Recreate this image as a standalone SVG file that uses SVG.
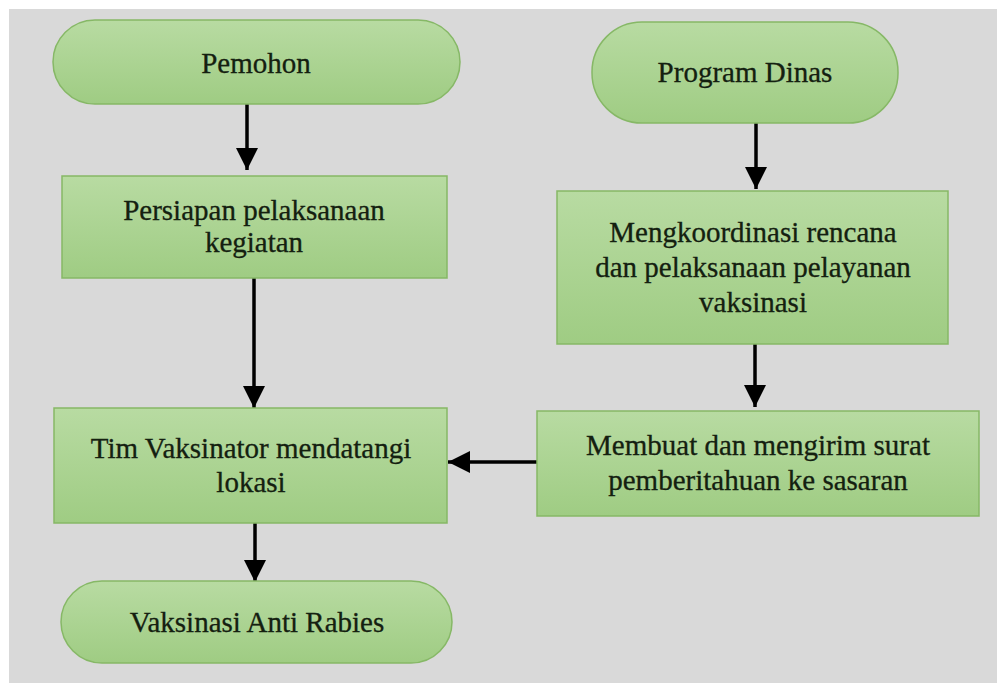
<svg xmlns="http://www.w3.org/2000/svg" width="997" height="683" viewBox="0 0 997 683">
<style>
.node{fill:url(#g);stroke:#86b866;stroke-width:1.5}
.t{font-family:"Liberation Serif","Times New Roman",serif;font-size:29px;fill:#142010;stroke:#142010;stroke-width:0.3;text-anchor:middle}
.c{stroke:#000;stroke-width:3.5;fill:none;marker-end:url(#ah)}
</style>
<defs>
<linearGradient id="g" x1="0" y1="0" x2="0" y2="1">
<stop offset="0" stop-color="#b8dba2"/>
<stop offset="1" stop-color="#9fcc83"/>
</linearGradient>
<marker id="ah" markerUnits="userSpaceOnUse" markerWidth="24" markerHeight="24" viewBox="0 0 24 24" refX="22" refY="12" orient="auto">
<path d="M0,1 L22,12 L0,23 Z" fill="#000"/>
</marker>
</defs>
<rect x="0" y="0" width="997" height="683" fill="#fff"/>
<rect x="9" y="9" width="988" height="674" fill="#d9d9d9"/>
<g id="connectors">
<line class="c" x1="247" y1="104" x2="247" y2="170"/>
<line class="c" x1="254" y1="278" x2="254" y2="408"/>
<line class="c" x1="255" y1="523" x2="255" y2="582"/>
<line class="c" x1="756" y1="123" x2="756" y2="189"/>
<line class="c" x1="755" y1="344" x2="755" y2="407"/>
<line class="c" x1="537" y1="462" x2="448" y2="462"/>
</g>
<g id="pemohon">
<rect class="node" x="53" y="20" width="407" height="84" rx="42" ry="42"/>
<text class="t" x="256" y="73">Pemohon</text>
</g>
<g id="persiapan">
<rect class="node" x="62" y="176" width="385" height="102"/>
<text class="t" x="254" y="220">Persiapan pelaksanaan</text>
<text class="t" x="254" y="252">kegiatan</text>
</g>
<g id="tim">
<rect class="node" x="54" y="408" width="393" height="115"/>
<text class="t" x="251" y="458">Tim Vaksinator mendatangi</text>
<text class="t" x="251" y="492">lokasi</text>
</g>
<g id="vaksinasi">
<rect class="node" x="61" y="581" width="391" height="82" rx="41" ry="41"/>
<text class="t" x="257" y="632">Vaksinasi Anti Rabies</text>
</g>
<g id="program">
<rect class="node" x="592" y="22" width="306" height="101" rx="50" ry="50"/>
<text class="t" x="745" y="82">Program Dinas</text>
</g>
<g id="mengkoordinasi">
<rect class="node" x="557" y="191" width="391" height="153"/>
<text class="t" x="753" y="242">Mengkoordinasi rencana</text>
<text class="t" x="753" y="277">dan pelaksanaan pelayanan</text>
<text class="t" x="753" y="312">vaksinasi</text>
</g>
<g id="membuat">
<rect class="node" x="537" y="411" width="442" height="105"/>
<text class="t" x="758" y="455">Membuat dan mengirim surat</text>
<text class="t" x="758" y="490">pemberitahuan ke sasaran</text>
</g>
</svg>
